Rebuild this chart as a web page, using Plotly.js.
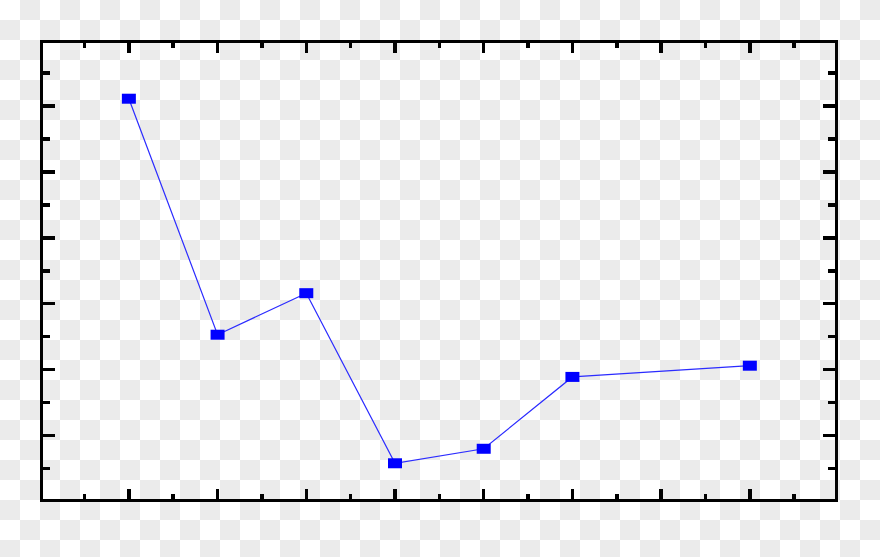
<!DOCTYPE html>
<html>
<head>
<meta charset="utf-8">
<script src="https://cdn.plot.ly/plotly-3.0.1.min.js"></script>
<style>
  html, body { margin: 0; padding: 0; }
  body {
    width: 880px; height: 557px; overflow: hidden;
    background: repeating-conic-gradient(#ebebeb 0 25%, #ffffff 0 50%) 0 0 / 40px 40px;
  }
  #chart { width: 880px; height: 557px; }
</style>
</head>
<body>
<div id="chart"></div>
<script>
const xValues = [1, 2, 3, 4, 5, 6, 8];
const yValues = [6.11, 2.53, 3.16, 0.58, 0.80, 1.89, 2.06];

const trace = {
  x: xValues,
  y: yValues,
  type: 'scatter',
  mode: 'lines+markers',
  line: { color: '#2b2bff', width: 1.2 },
  marker: {
    symbol: 'line-ew',
    size: 10,
    color: '#0000ff',
    line: { color: '#0000ff', width: 10 }
  },
  hoverinfo: 'none'
};

const axisCommon = {
  showgrid: false,
  zeroline: false,
  showline: true,
  linecolor: '#000000',
  linewidth: 3,
  mirror: 'allticks',
  ticks: 'inside',
  tickcolor: '#000000',
  tickwidth: 3.5,
  showticklabels: false,
  fixedrange: true
};

const layout = {
  width: 880,
  height: 557,
  margin: { l: 43, r: 44.5, t: 43, b: 57.5, pad: 0 },
  paper_bgcolor: 'rgba(0,0,0,0)',
  plot_bgcolor: 'rgba(0,0,0,0)',
  showlegend: false,
  xaxis: Object.assign({}, axisCommon, {
    range: [0.032, 8.96],
    dtick: 1,
    tick0: 0,
    ticklen: 10,
    minor: { ticks: 'inside', dtick: 0.5, tick0: 0, ticklen: 5, tickwidth: 3.5, tickcolor: '#000000', showgrid: false }
  }),
  yaxis: Object.assign({}, axisCommon, {
    range: [0.038, 6.955],
    dtick: 1,
    tick0: 0,
    ticklen: 12,
    minor: { ticks: 'inside', dtick: 0.5, tick0: 0, ticklen: 7, tickwidth: 3.5, tickcolor: '#000000', showgrid: false }
  })
};

Plotly.newPlot('chart', [trace], layout, { staticPlot: true, displayModeBar: false });
</script>
</body>
</html>
